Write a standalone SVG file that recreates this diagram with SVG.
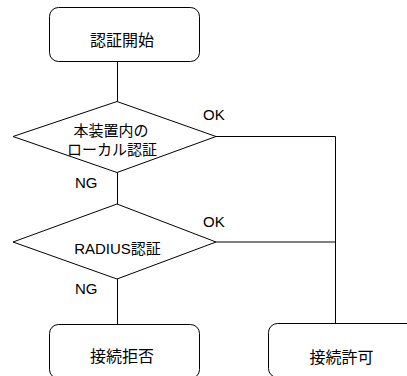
<svg xmlns="http://www.w3.org/2000/svg" width="407" height="376" viewBox="0 0 407 376">
<style>
.shape{fill:#fff;stroke:#000;stroke-width:1}
.line{fill:none;stroke:#000;stroke-width:1}
.t{font-family:"Liberation Sans","Noto Sans CJK JP",sans-serif;fill:#000}
.b{font-size:16px;text-anchor:middle}
.d{font-size:15px;text-anchor:middle}
.l{font-size:15px}
</style>
<rect width="407" height="376" fill="#fff"/>
<g id="connectors">
<path class="line" d="M117.5 61.5V101.5"/>
<path class="line" d="M117.5 172.5V204"/>
<path class="line" d="M117.5 279V324.5"/>
<path class="line" d="M216 136.5H335.5V323.5"/>
<path class="line" d="M216 242H335.5"/>
<text class="t l" x="203" y="120">OK</text>
<text class="t l" x="203" y="226.5">OK</text>
<text class="t l" x="75" y="188">NG</text>
<text class="t l" x="75" y="294">NG</text>
</g>
<g id="start">
<rect class="shape" x="49.5" y="7.5" width="150" height="54" rx="9"/>
<text class="t b" x="122" y="45.5">認証開始</text>
</g>
<g id="local">
<polygon class="shape" points="117,101.5 216,136.5 117,172.5 13,136.5"/>
<text class="t d" x="111" y="135.5">本装置内の</text>
<text class="t d" x="112" y="155">ローカル認証</text>
</g>
<g id="radius">
<polygon class="shape" points="117,204 216,242 117,279 13,242"/>
<text class="t d" x="117.5" y="254">RADIUS認証</text>
</g>
<g id="reject">
<rect class="shape" x="49.5" y="324.5" width="150" height="54" rx="9"/>
<text class="t b" x="122" y="362">接続拒否</text>
</g>
<g id="permit">
<rect class="shape" x="268.5" y="323.5" width="150" height="54" rx="9"/>
<text class="t b" x="341.5" y="363">接続許可</text>
</g>
</svg>
